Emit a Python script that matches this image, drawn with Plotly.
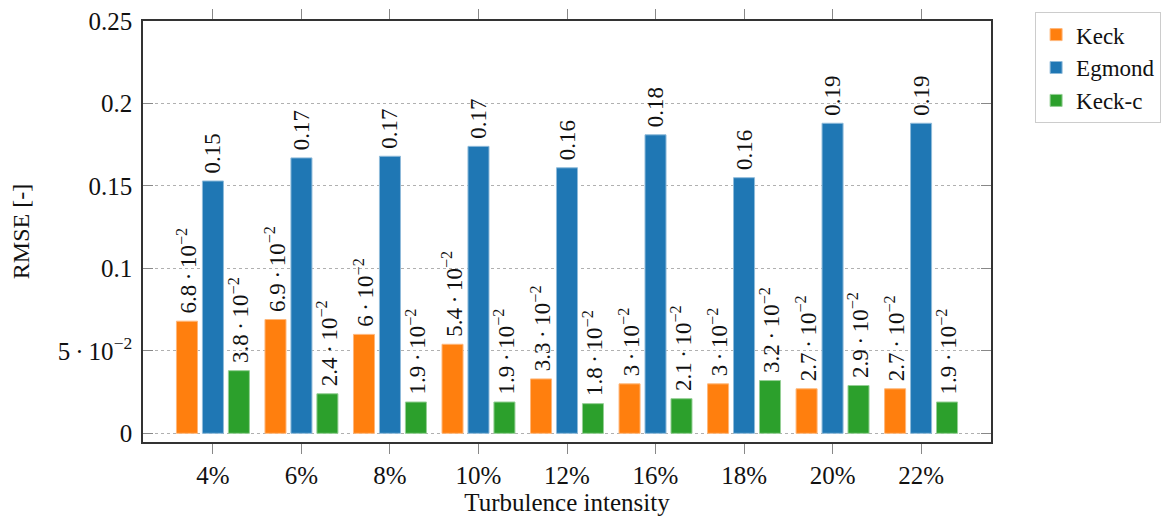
import plotly.graph_objects as go

categories = ["4%", "6%", "8%", "10%", "12%", "16%", "18%", "20%", "22%"]
keck = [0.068, 0.069, 0.060, 0.054, 0.033, 0.030, 0.030, 0.027, 0.027]
egmond = [0.153, 0.167, 0.168, 0.174, 0.161, 0.181, 0.155, 0.188, 0.188]
keck_c = [0.038, 0.024, 0.019, 0.019, 0.018, 0.021, 0.032, 0.029, 0.019]

keck_labels = ["6.8", "6.9", "6", "5.4", "3.3", "3", "3", "2.7", "2.7"]
egmond_labels = ["0.15", "0.17", "0.17", "0.17", "0.16", "0.18", "0.16", "0.19", "0.19"]
keck_c_labels = ["3.8", "2.4", "1.9", "1.9", "1.8", "2.1", "3.2", "2.9", "1.9"]

y_tickvals = [0, 0.05, 0.1, 0.15, 0.2, 0.25]
y_ticktext = ["0", "5\u2009·\u200910<sup>−2</sup>", "0.1", "0.15", "0.2", "0.25"]


def sci(m):
    return "\u2009" + m + "\u2009·\u200910<sup>−2</sup>"


FONT = "Liberation Serif"
series = [
    ("Keck", keck, [sci(m) for m in keck_labels], "#ff7f0e", "#ffb77a"),
    ("Egmond", egmond, ["\u2009" + s for s in egmond_labels], "#1f77b4", "#8fbbda"),
    ("Keck-c", keck_c, [sci(m) for m in keck_c_labels], "#2ca02c", "#95cf95"),
]

fig = go.Figure()
for name, vals, labels, col, lcol in series:
    fig.add_trace(go.Bar(
        x=list(range(len(categories))), y=vals, name=name,
        text=labels, textposition="outside", textangle=-90,
        constraintext="none", cliponaxis=False,
        textfont=dict(family=FONT, size=23, color="#111"),
        marker=dict(color=col, line=dict(color=lcol, width=1)),
    ))

fig.update_layout(
    width=1171, height=517,
    margin=dict(l=135, r=188, t=13, b=83, autoexpand=False),
    paper_bgcolor="white", plot_bgcolor="white",
    barmode="group", bargap=0.12, bargroupgap=0.19,
    font=dict(family=FONT, size=25, color="#111"),
    legend=dict(x=1.052, y=1.021, xanchor="left", yanchor="top",
                bordercolor="#cccccc", borderwidth=1,
                font=dict(family=FONT, size=23), tracegroupgap=0,
                itemwidth=30),
    showlegend=True,
)
fig.update_xaxes(
    range=[-0.79, 8.79], tickmode="array", automargin=False,
    tickvals=list(range(len(categories))), ticktext=categories,
    ticks="outside", ticklen=10, tickcolor="#888", tickwidth=1.2,
    showline=True, linecolor="#333", linewidth=1.5, mirror="ticks",
    showgrid=False, zeroline=False, ticklabeloverflow="allow",
    tickfont=dict(family=FONT, size=25),
    title=dict(text="Turbulence intensity", font=dict(family=FONT, size=25), standoff=6),
)
fig.update_yaxes(
    range=[-0.00525, 0.25], tickmode="array", automargin=False,
    tickvals=y_tickvals, ticktext=y_ticktext,
    ticks="inside", ticklen=10, tickcolor="#888", tickwidth=1.2,
    showline=True, linecolor="#333", linewidth=1.5, mirror="ticks",
    showgrid=True, gridcolor="#b0b0b0", griddash="dot", gridwidth=1,
    zeroline=False, ticklabelstandoff=4, ticklabeloverflow="allow",
    tickfont=dict(family=FONT, size=25),
    title=dict(text="RMSE [-]", font=dict(family=FONT, size=24), standoff=22),
)

fig.write_html("out.html")
